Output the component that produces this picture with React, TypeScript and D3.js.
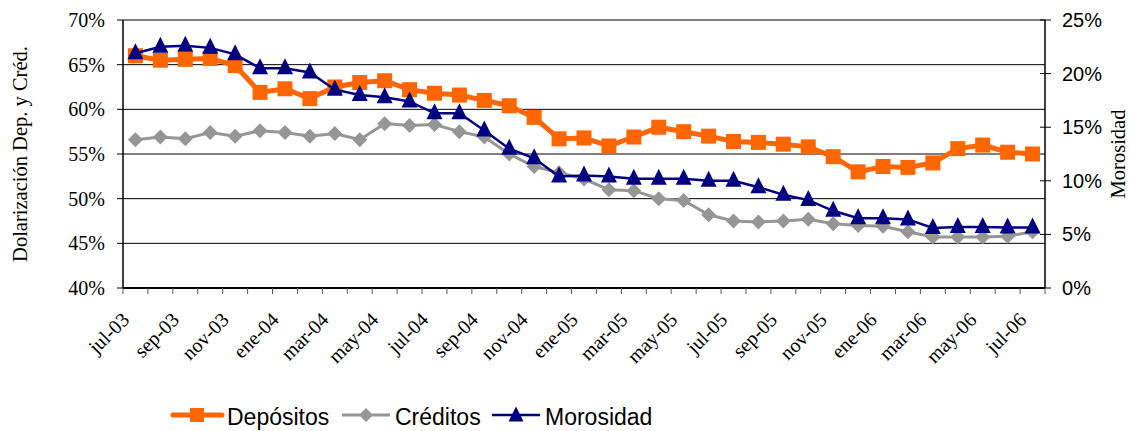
import React from 'react';
import * as d3 from 'd3';

const months = [
  'jul-03', 'ago-03', 'sep-03', 'oct-03', 'nov-03', 'dic-03',
  'ene-04', 'feb-04', 'mar-04', 'abr-04', 'may-04', 'jun-04',
  'jul-04', 'ago-04', 'sep-04', 'oct-04', 'nov-04', 'dic-04',
  'ene-05', 'feb-05', 'mar-05', 'abr-05', 'may-05', 'jun-05',
  'jul-05', 'ago-05', 'sep-05', 'oct-05', 'nov-05', 'dic-05',
  'ene-06', 'feb-06', 'mar-06', 'abr-06', 'may-06', 'jun-06',
  'jul-06',
];

// dolarización de depósitos (%)
const depositos = [
  66.0, 65.5, 65.6, 65.7, 64.9, 61.9, 62.3, 61.2, 62.5, 63.0, 63.2, 62.2,
  61.8, 61.6, 61.0, 60.4, 59.1, 56.7, 56.8, 55.9, 56.9, 58.0, 57.5, 57.0,
  56.4, 56.3, 56.1, 55.8, 54.7, 53.0, 53.6, 53.5, 54.0, 55.6, 56.0, 55.2,
  55.0,
];

// dolarización de créditos (%)
const creditos = [
  56.6, 56.9, 56.7, 57.4, 57.0, 57.6, 57.4, 57.0, 57.3, 56.6, 58.4, 58.2,
  58.3, 57.5, 56.9, 55.0, 53.6, 52.9, 52.2, 51.0, 50.9, 50.0, 49.8, 48.2,
  47.5, 47.4, 47.5, 47.7, 47.2, 47.0, 46.9, 46.3, 45.7, 45.7, 45.7, 45.8,
  46.3,
];

// morosidad (%), eje derecho
const morosidad = [
  21.9, 22.5, 22.6, 22.4, 21.8, 20.5, 20.5, 20.1, 18.5, 18.0, 17.8, 17.4,
  16.3, 16.3, 14.7, 13.0, 12.1, 10.4, 10.5, 10.4, 10.2, 10.2, 10.2, 10.0,
  10.0, 9.4, 8.7, 8.2, 7.2, 6.5, 6.5, 6.4, 5.6, 5.7, 5.7, 5.65, 5.65,
];

const leftTicks = [40, 45, 50, 55, 60, 65, 70];
const rightTicks = [0, 5, 10, 15, 20, 25];

const ORANGE = '#FF6600';
const GRAY = '#969696';
const NAVY = '#000080';

const serif = '"Liberation Serif", "Times New Roman", serif';
const sans = '"Liberation Sans", Arial, sans-serif';

function Square({ x, y, s }: { x: number; y: number; s: number }) {
  return <rect x={x - s / 2} y={y - s / 2} width={s} height={s} fill={ORANGE} />;
}

function Diamond({ x, y, s }: { x: number; y: number; s: number }) {
  const h = s / 2;
  return <path d={`M${x},${y - h}L${x + h},${y}L${x},${y + h}L${x - h},${y}Z`} fill={GRAY} />;
}

function Triangle({ x, y, s }: { x: number; y: number; s: number }) {
  const h = s / 2;
  return <path d={`M${x},${y - h - 2}L${x + h},${y + h - 2}L${x - h},${y + h - 2}Z`} fill={NAVY} />;
}

export default function App() {
  const left = 123;
  const right = 1045;
  const top = 20;
  const bottom = 288;

  const x = d3.scaleBand<string>().domain(months).range([left, right]);
  const cx = (i: number) => (x(months[i]) as number) + x.bandwidth() / 2;
  const yL = d3.scaleLinear().domain([40, 70]).range([bottom, top]);
  const yR = d3.scaleLinear().domain([0, 25]).range([bottom, top]);

  const lineL = d3.line<number>().x((_, i) => cx(i)).y((d) => yL(d));
  const lineR = d3.line<number>().x((_, i) => cx(i)).y((d) => yR(d));

  const boundaries = d3.range(months.length + 1).map((i) => left + i * x.step());

  return (
    <svg
      width={1129}
      height={431}
      style={{ position: 'absolute', left: 0, top: 0, background: '#fff' }}
    >
      {/* grid */}
      {leftTicks.map((t) => (
        <line key={'g' + t} x1={left} x2={right} y1={yL(t)} y2={yL(t)} stroke="#000" strokeWidth={1} />
      ))}

      {/* axes */}
      <line x1={left} x2={left} y1={top} y2={bottom} stroke="#000" strokeWidth={1.5} />
      <line x1={right} x2={right} y1={top} y2={bottom} stroke="#000" strokeWidth={1.5} />
      <line x1={left} x2={right} y1={bottom} y2={bottom} stroke="#000" strokeWidth={2} />

      {leftTicks.map((t) => (
        <g key={'l' + t}>
          <line x1={left - 6} x2={left} y1={yL(t)} y2={yL(t)} stroke="#000" />
          <text x={105} y={yL(t) + 7} textAnchor="end" fontFamily={serif} fontSize={20} fill="#000">
            {t}%
          </text>
        </g>
      ))}

      {rightTicks.map((t) => (
        <g key={'r' + t}>
          <line x1={right - 5} x2={right + 6} y1={yR(t)} y2={yR(t)} stroke="#000" />
          <text x={1062} y={yR(t) + 7} fontFamily={sans} fontSize={20} fill="#000">
            {t}%
          </text>
        </g>
      ))}

      {boundaries.map((b, i) => (
        <line key={'t' + i} x1={b} x2={b} y1={bottom} y2={bottom + 6} stroke="#555" />
      ))}

      {months.map((m, i) =>
        i % 2 === 0 ? (
          <text
            key={m}
            transform={`translate(${cx(i) - 5},${bottom + 33}) rotate(-45)`}
            textAnchor="end"
            fontFamily={serif}
            fontSize={20}
            fill="#000"
          >
            {m}
          </text>
        ) : null
      )}

      {/* axis titles */}
      <text
        transform={`translate(27,${(top + bottom) / 2}) rotate(-90)`}
        textAnchor="middle"
        fontFamily={serif}
        fontSize={20.5}
        fill="#000"
      >
        Dolarización Dep. y Créd.
      </text>
      <text
        transform={`translate(1125,${(top + bottom) / 2}) rotate(-90)`}
        textAnchor="middle"
        fontFamily={serif}
        fontSize={20.5}
        fill="#000"
      >
        Morosidad
      </text>

      {/* series */}
      <path d={lineL(creditos) ?? ''} fill="none" stroke={GRAY} strokeWidth={3} />
      {creditos.map((v, i) => (
        <Diamond key={'c' + i} x={cx(i)} y={yL(v)} s={15} />
      ))}

      <path d={lineL(depositos) ?? ''} fill="none" stroke={ORANGE} strokeWidth={5} />
      {depositos.map((v, i) => (
        <Square key={'d' + i} x={cx(i)} y={yL(v)} s={15} />
      ))}

      <path d={lineR(morosidad) ?? ''} fill="none" stroke={NAVY} strokeWidth={2.5} />
      {morosidad.map((v, i) => (
        <Triangle key={'m' + i} x={cx(i)} y={yR(v)} s={16} />
      ))}

      {/* legend */}
      <g>
        <line x1={173} x2={222} y1={415} y2={415} stroke={ORANGE} strokeWidth={5} strokeLinecap="round" />
        <Square x={197} y={415} s={14} />
        <text x={227} y={425} fontFamily={sans} fontSize={23} fill="#000">Depósitos</text>

        <line x1={342} x2={390} y1={415} y2={415} stroke={GRAY} strokeWidth={3} />
        <Diamond x={366} y={415} s={14} />
        <text x={395} y={425} fontFamily={sans} fontSize={23} fill="#000">Créditos</text>

        <line x1={492} x2={540} y1={415} y2={415} stroke={NAVY} strokeWidth={2.5} />
        <Triangle x={516} y={416} s={15} />
        <text x={545} y={425} fontFamily={sans} fontSize={23} fill="#000">Morosidad</text>
      </g>
    </svg>
  );
}
